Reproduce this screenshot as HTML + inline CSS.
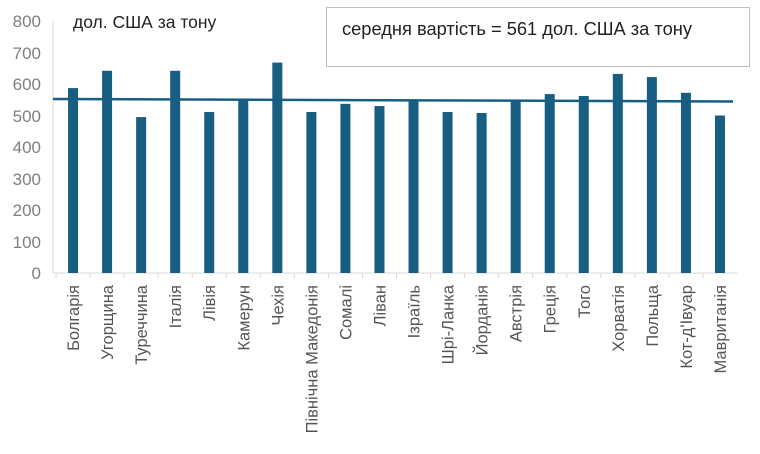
<!DOCTYPE html>
<html><head><meta charset="utf-8"><style>body{margin:0;background:#fff}</style></head><body>
<svg width="760" height="449" xmlns="http://www.w3.org/2000/svg" font-family="Liberation Sans, sans-serif">
<rect width="760" height="449" fill="#fff"/>
<g fill="#7f7f7f" font-size="17" text-anchor="end">
<text x="41" y="279">0</text><text x="41" y="248">100</text><text x="41" y="216">200</text><text x="41" y="185">300</text><text x="41" y="153">400</text><text x="41" y="122">500</text><text x="41" y="90">600</text><text x="41" y="59">700</text><text x="41" y="27">800</text>
</g>
<line x1="53" y1="21" x2="53" y2="273" stroke="#d9d9d9"/>
<line x1="53" y1="273" x2="737" y2="273" stroke="#d9d9d9"/>
<text x="73" y="28" font-size="17.5" fill="#222">дол. США за тону</text>
<rect x="326.5" y="7.5" width="423" height="59" fill="#fff" stroke="#bfbfbf"/>
<text x="342" y="35" font-size="18.3" fill="#222">середня вартість = 561 дол. США за тону</text>
<g id="bars" fill="#175e82"></g>
<line x1="53" y1="99" x2="733" y2="101.5" stroke="#175e82" stroke-width="2.5"/>
<g id="labels" fill="#555" font-size="16.5"></g>
<script>
var v=[587,642,495,642,511,550,668,511,537,530,550,511,508,547,568,562,632,622,572,500];
var n=["Болгарія","Угорщина","Туреччина","Італія","Лівія","Камерун","Чехія","Північна Македонія","Сомалі","Ліван","Ізраїль","Шрі-Ланка","Йорданія","Австрія","Греція","Того","Хорватія","Польща","Кот-д'Івуар","Мавританія"];
var ns="http://www.w3.org/2000/svg",b=document.getElementById("bars"),l=document.getElementById("labels"),ax=document.querySelector("svg");
for(var i=0;i<20;i++){var cx=56+34.05*(i+0.5);
var r=document.createElementNS(ns,"rect");var h=v[i]*0.315;r.setAttribute("x",cx-5);r.setAttribute("y",273-h);r.setAttribute("width",10);r.setAttribute("height",h);b.appendChild(r);
var t=document.createElementNS(ns,"line");var tx=56+34.05*i;t.setAttribute("x1",tx);t.setAttribute("x2",tx);t.setAttribute("y1",273);t.setAttribute("y2",278);t.setAttribute("stroke","#d9d9d9");ax.appendChild(t);
var s=document.createElementNS(ns,"text");s.setAttribute("text-anchor","end");s.setAttribute("transform","translate("+(cx+6)+",285) rotate(-90)");s.textContent=n[i];l.appendChild(s);}
</script>
</svg>
</body></html>
